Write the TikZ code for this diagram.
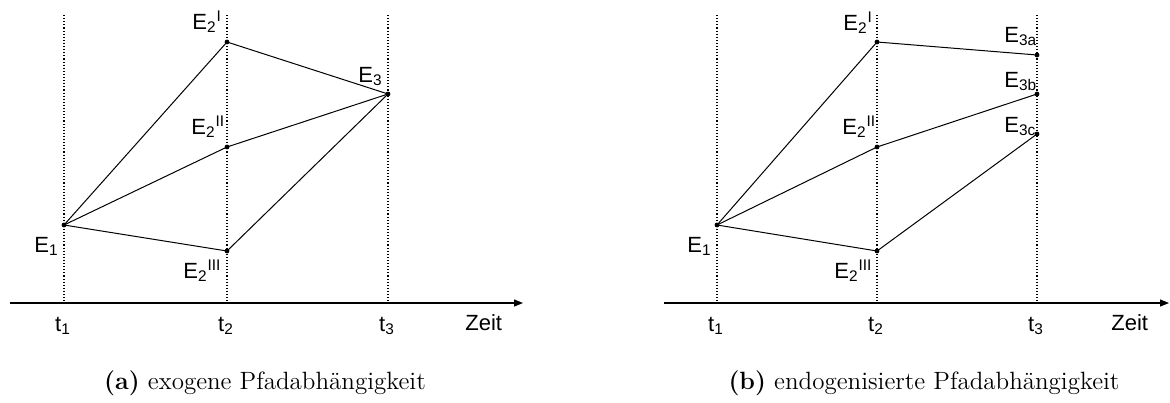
\documentclass[tikz,border=0pt]{standalone}
\usepackage{fontspec}
\setsansfont{Liberation Sans}
\usetikzlibrary{arrows.meta}
\begin{document}
\begin{tikzpicture}[x=0.5pt,y=-0.5pt,
  dot/.style={circle,fill,inner sep=0pt,minimum size=2.4pt},
  lbl/.style={anchor=base west,inner sep=0pt,font=\sffamily\fontsize{11}{13}\selectfont},
  tlbl/.style={anchor=base,inner sep=0pt,font=\sffamily\fontsize{11}{13}\selectfont},
  zlbl/.style={anchor=base west,inner sep=0pt,font=\sffamily\fontsize{11}{13}\selectfont},
  guide/.style={densely dotted,line width=0.55pt},
  conn/.style={line width=0.5pt},
  axisline/.style={line width=0.6pt,-{Triangle[length=4.5pt,width=3.5pt]}},
  captxt/.style={anchor=base,inner sep=0pt,font=\fontsize{12.5}{15}\selectfont}]
\useasboundingbox (0,0) rectangle (1170,402);

% ---------- left panel ----------
\coordinate (La0) at (10,303);
\coordinate (La1) at (523,303);
\foreach \n/\x in {1/64,2/227,3/388}{
  \coordinate (Lg\n top) at (\x,15);
  \coordinate (Lg\n bot) at (\x,303);
  \draw[guide] (Lg\n top) -- (Lg\n bot);
}
\draw[axisline] (La0) -- (La1);

\node[dot] (LE1) at (64,225) {};
\node[dot] (LE2a) at (227,42) {};
\node[dot] (LE2b) at (227,147) {};
\node[dot] (LE2c) at (227,251) {};
\node[dot] (LE3) at (388,94) {};

\draw[conn] (LE1.center) -- (LE2a.center);
\draw[conn] (LE1.center) -- (LE2b.center);
\draw[conn] (LE1.center) -- (LE2c.center);
\draw[conn] (LE2a.center) -- (LE3.center);
\draw[conn] (LE2b.center) -- (LE3.center);
\draw[conn] (LE2c.center) -- (LE3.center);

\node[lbl] (LlE2a) at (192,29) {E\textsubscript{2}\textsuperscript{I}};
\node[lbl] (LlE2b) at (191,134) {E\textsubscript{2}\textsuperscript{II}};
\node[lbl] (LlE2c) at (183,278) {E\textsubscript{2}\textsuperscript{III}};
\node[lbl] (LlE1) at (34,252) {E\textsubscript{1}};
\node[lbl] (LlE3) at (358,82) {E\textsubscript{3}};

\node[tlbl] (Lt1) at (63,331) {t\textsubscript{1}};
\node[tlbl] (Lt2) at (226,331) {t\textsubscript{2}};
\node[tlbl] (Lt3) at (387,331) {t\textsubscript{3}};
\node[zlbl] (Lzeit) at (465,330) {Zeit};

\node[captxt] (capa) at (265,389) {\textbf{(a)} exogene Pfadabhängigkeit};

% ---------- right panel ----------
\coordinate (Ra0) at (664,303);
\coordinate (Ra1) at (1169,303);
\foreach \n/\x in {1/717,2/877,3/1037}{
  \coordinate (Rg\n top) at (\x,15);
  \coordinate (Rg\n bot) at (\x,303);
  \draw[guide] (Rg\n top) -- (Rg\n bot);
}
\draw[axisline] (Ra0) -- (Ra1);

\node[dot] (RE1) at (717,225) {};
\node[dot] (RE2a) at (877,42) {};
\node[dot] (RE2b) at (877,147) {};
\node[dot] (RE2c) at (877,251) {};
\node[dot] (RE3a) at (1037,55) {};
\node[dot] (RE3b) at (1037,94) {};
\node[dot] (RE3c) at (1037,134) {};

\draw[conn] (RE1.center) -- (RE2a.center);
\draw[conn] (RE1.center) -- (RE2b.center);
\draw[conn] (RE1.center) -- (RE2c.center);
\draw[conn] (RE2a.center) -- (RE3a.center);
\draw[conn] (RE2b.center) -- (RE3b.center);
\draw[conn] (RE2c.center) -- (RE3c.center);

\node[lbl] (RlE2a) at (843,30) {E\textsubscript{2}\textsuperscript{I}};
\node[lbl] (RlE2b) at (842,134) {E\textsubscript{2}\textsuperscript{II}};
\node[lbl] (RlE2c) at (834,278) {E\textsubscript{2}\textsuperscript{III}};
\node[lbl] (RlE1) at (687,252) {E\textsubscript{1}};
\node[lbl] (RlE3a) at (1004,42) {E\textsubscript{3a}};
\node[lbl] (RlE3b) at (1004,87) {E\textsubscript{3b}};
\node[lbl] (RlE3c) at (1004,132) {E\textsubscript{3c}};

\node[tlbl] (Rt1) at (716,331) {t\textsubscript{1}};
\node[tlbl] (Rt2) at (876,331) {t\textsubscript{2}};
\node[tlbl] (Rt3) at (1036,331) {t\textsubscript{3}};
\node[zlbl] (Rzeit) at (1111,330) {Zeit};

\node[captxt] (capb) at (924,389) {\textbf{(b)} endogenisierte Pfadabhängigkeit};
\end{tikzpicture}
\end{document}
